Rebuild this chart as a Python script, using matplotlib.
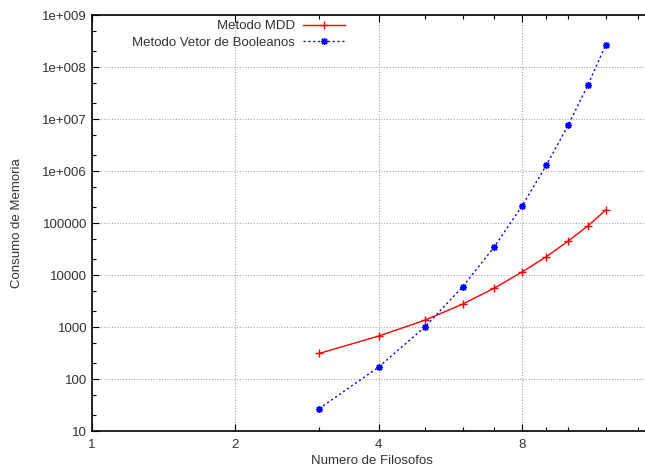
import numpy as np
import matplotlib.pyplot as plt
from matplotlib.ticker import FixedLocator, NullFormatter

# dados
filosofos = [3, 4, 5, 6, 7, 8, 9, 10, 11, 12]
mdd = [310, 670, 1350, 2750, 5600, 11400, 22500, 45000, 88000, 178000]
booleanos = [27, 170, 1000, 5900, 35000, 212000, 1300000, 7600000, 45000000, 270000000]

xticks = [1, 2, 4, 8]
yticks = [10, 100, 1000, 10000, 100000, 1e6, 1e7, 1e8, 1e9]
ylabels = ['10', '100', '1000', '10000', '100000', '1e+006', '1e+007', '1e+008', '1e+009']

plt.rcParams['font.family'] = ['Liberation Sans', 'DejaVu Sans']
plt.rcParams['font.size'] = 9

fig = plt.figure(figsize=(6.45, 4.7), dpi=100)
W, H = 645.0, 470.0
ax = fig.add_axes([92 / W, 1 - 431 / H, (652 - 92) / W, (431 - 15) / H])

ax.plot(filosofos, mdd, color='#ff0000', lw=1, marker='+', ms=6, mew=1,
        label='Metodo MDD')
ax.plot(filosofos, booleanos, color='#0000ff', lw=1, ls=(0, (1.5, 2)),
        marker=(8, 2, 0), ms=5, mew=1, label='Metodo Vetor de Booleanos')

ax.set_xscale('log', base=2)
ax.set_yscale('log')
ax.set_xlim(1, 15)
ax.set_ylim(10, 1e9)

ax.xaxis.set_major_locator(FixedLocator(xticks))
ax.set_xticklabels([str(t) for t in xticks])
ax.xaxis.set_minor_locator(FixedLocator([3, 5, 6, 7, 9, 10, 12, 14]))
ax.xaxis.set_minor_formatter(NullFormatter())
ax.yaxis.set_major_locator(FixedLocator(yticks))
ax.set_yticklabels(ylabels)
minors = []
for d in yticks[:-1]:
    minors += [2 * d, 5 * d]
ax.yaxis.set_minor_locator(FixedLocator(minors))
ax.yaxis.set_minor_formatter(NullFormatter())

ax.tick_params(which='both', direction='in', top=True, right=True, colors='#000000',
               labelcolor='#333333', labelsize=9.5)
ax.tick_params(which='major', length=5, width=0.8)
ax.tick_params(which='minor', length=3, width=0.8)
ax.tick_params(axis='x', pad=6)

ax.grid(True, which='major', color='#aaaaaa', ls=(0, (1, 1.5)), lw=0.8)
for s in ax.spines.values():
    s.set_linewidth(1.2)

ax.set_xlabel('Numero de Filosofos', fontsize=9.5, color='#333333', labelpad=3)
ax.set_ylabel('Consumo de Memoria', fontsize=9.5, color='#333333', labelpad=14)

ax.legend(loc='upper right', bbox_to_anchor=(345 / W, 1 - 20 / H),
          bbox_transform=fig.transFigure, frameon=False, markerfirst=False,
          fontsize=9.5, handlelength=3.2, handletextpad=0.6, labelspacing=0.35,
          borderpad=0, borderaxespad=0)
for t in ax.get_legend().get_texts():
    t.set_color('#333333')

fig.savefig('out.png', dpi=100)
